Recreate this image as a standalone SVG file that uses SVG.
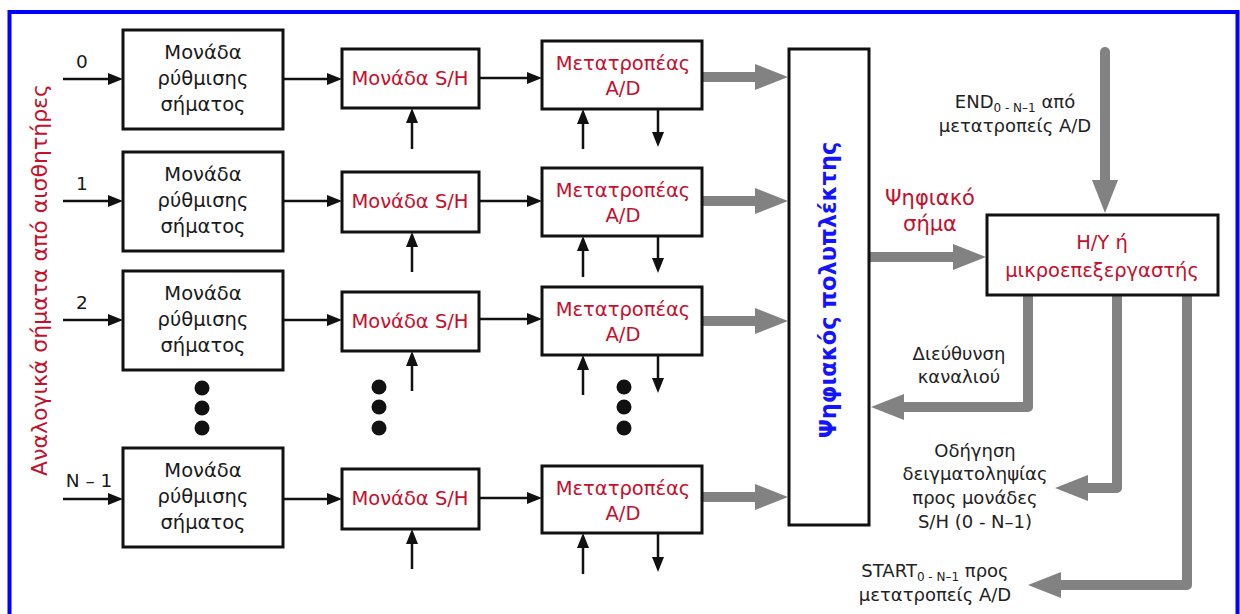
<svg xmlns="http://www.w3.org/2000/svg" width="1240" height="614" viewBox="0 0 1240 614">
<style>
.box{fill:#fff;stroke:#111;stroke-width:3}
.t{font-family:"DejaVu Sans","Liberation Sans",sans-serif;font-size:19.5px;text-anchor:middle;fill:#1a1a1a}
.r{fill:#c4102c}
.g{font-size:18px;fill:#222}
.thin{stroke:#111;stroke-width:2.5;fill:none}
.fat{stroke:#828282;stroke-width:10;fill:none;stroke-linejoin:round}
.dot{fill:#111}
</style>
<defs>
<marker id="ah" markerUnits="userSpaceOnUse" viewBox="0 0 15 12" markerWidth="15" markerHeight="12" refX="2" refY="6" orient="auto"><path d="M0,0 L15,6 L0,12 z" fill="#111"/></marker>
<marker id="gh" markerUnits="userSpaceOnUse" viewBox="0 0 33 26" markerWidth="33" markerHeight="26" refX="2" refY="13" orient="auto"><path d="M0,0 L33,13 L0,26 z" fill="#828282"/></marker>
</defs>
<rect x="0" y="0" width="1240" height="614" fill="#fff"/>
<rect x="9.5" y="12" width="1228" height="640" fill="none" stroke="#0000ff" stroke-width="4"/>

<g id="connectors">
  <line class="thin" x1="63" y1="79" x2="110" y2="79" marker-end="url(#ah)"/>
  <line class="thin" x1="63" y1="201" x2="110" y2="201" marker-end="url(#ah)"/>
  <line class="thin" x1="63" y1="320" x2="110" y2="320" marker-end="url(#ah)"/>
  <line class="thin" x1="63" y1="499" x2="110" y2="499" marker-end="url(#ah)"/>
  <line class="thin" x1="283" y1="79" x2="329" y2="79" marker-end="url(#ah)"/>
  <line class="thin" x1="283" y1="201" x2="329" y2="201" marker-end="url(#ah)"/>
  <line class="thin" x1="283" y1="320" x2="329" y2="320" marker-end="url(#ah)"/>
  <line class="thin" x1="283" y1="499" x2="329" y2="499" marker-end="url(#ah)"/>
  <line class="thin" x1="479" y1="78" x2="529" y2="78" marker-end="url(#ah)"/>
  <line class="thin" x1="479" y1="201" x2="529" y2="201" marker-end="url(#ah)"/>
  <line class="thin" x1="479" y1="319" x2="529" y2="319" marker-end="url(#ah)"/>
  <line class="thin" x1="479" y1="498" x2="529" y2="498" marker-end="url(#ah)"/>
  <line class="thin" x1="412" y1="149" x2="412" y2="121" marker-end="url(#ah)"/>
  <line class="thin" x1="412" y1="272" x2="412" y2="245" marker-end="url(#ah)"/>
  <line class="thin" x1="412" y1="391" x2="412" y2="364" marker-end="url(#ah)"/>
  <line class="thin" x1="412" y1="569" x2="412" y2="542" marker-end="url(#ah)"/>
  <line class="thin" x1="583" y1="149" x2="583" y2="122" marker-end="url(#ah)"/>
  <line class="thin" x1="583" y1="277" x2="583" y2="249" marker-end="url(#ah)"/>
  <line class="thin" x1="583" y1="395" x2="583" y2="368" marker-end="url(#ah)"/>
  <line class="thin" x1="583" y1="574" x2="583" y2="546" marker-end="url(#ah)"/>
  <line class="thin" x1="658" y1="109" x2="658" y2="134" marker-end="url(#ah)"/>
  <line class="thin" x1="658" y1="236" x2="658" y2="260" marker-end="url(#ah)"/>
  <line class="thin" x1="658" y1="355" x2="658" y2="380" marker-end="url(#ah)"/>
  <line class="thin" x1="658" y1="533" x2="658" y2="559" marker-end="url(#ah)"/>
  <line class="fat" x1="702" y1="77" x2="757" y2="77" marker-end="url(#gh)"/>
  <line class="fat" x1="702" y1="201" x2="757" y2="201" marker-end="url(#gh)"/>
  <line class="fat" x1="702" y1="321" x2="757" y2="321" marker-end="url(#gh)"/>
  <line class="fat" x1="702" y1="497" x2="757" y2="497" marker-end="url(#gh)"/>
  <line class="fat" x1="869" y1="257" x2="955" y2="257" marker-end="url(#gh)"/>
  <line class="fat" x1="1105" y1="52" x2="1105" y2="182" stroke-linecap="round" marker-end="url(#gh)"/>
  <path class="fat" d="M1028,295 V407 H902" marker-end="url(#gh)"/>
  <path class="fat" d="M1117,295 V488 H1086" marker-end="url(#gh)"/>
  <path class="fat" d="M1187,295 V585 H1059" marker-end="url(#gh)"/>
</g>

<g id="labels">
  <text class="t" x="82" y="68" style="font-size:18.5px">0</text>
  <text class="t" x="82" y="190" style="font-size:18.5px">1</text>
  <text class="t" x="82" y="309" style="font-size:18.5px">2</text>
  <text class="t" x="89" y="487" style="font-size:18.5px">N – 1</text>
  <text class="t r" transform="translate(47,280) rotate(-90)" style="font-size:22px">Αναλογικά σήματα από αισθητήρες</text>
  <text class="t r" x="930" y="205" style="font-size:21px">Ψηφιακό</text>
  <text class="t r" x="930" y="231" style="font-size:21px">σήμα</text>
  <text class="t g" x="1015" y="108">END<tspan font-size="12" dy="4">0 - N–1</tspan><tspan dy="-4"> από</tspan></text>
  <text class="t g" x="1015" y="132">μετατροπείς A/D</text>
  <text class="t g" x="959" y="360">Διεύθυνση</text>
  <text class="t g" x="959" y="383">καναλιού</text>
  <text class="t g" x="975" y="457">Οδήγηση</text>
  <text class="t g" x="975" y="480">δειγματοληψίας</text>
  <text class="t g" x="975" y="504">προς μονάδες</text>
  <text class="t g" x="975" y="528">S/H (0 - N–1)</text>
  <text class="t g" x="935" y="577">START<tspan font-size="12" dy="4">0 - N–1</tspan><tspan dy="-4"> προς</tspan></text>
  <text class="t g" x="935" y="601">μετατροπείς A/D</text>
</g>

<g id="dots">
  <circle class="dot" cx="202" cy="388" r="7.5"/><circle class="dot" cx="202" cy="408" r="7.5"/><circle class="dot" cx="202" cy="428" r="7.5"/>
  <circle class="dot" cx="379" cy="387" r="7.5"/><circle class="dot" cx="379" cy="407" r="7.5"/><circle class="dot" cx="379" cy="428" r="7.5"/>
  <circle class="dot" cx="624" cy="387" r="7.5"/><circle class="dot" cx="624" cy="407" r="7.5"/><circle class="dot" cx="624" cy="428" r="7.5"/>
</g>

<g id="cond0"><rect class="box" x="123" y="30" width="160" height="99"/><text class="t" x="203" y="59">Μονάδα</text><text class="t" x="203" y="85">ρύθμισης</text><text class="t" x="203" y="111">σήματος</text></g>
<g id="cond1"><rect class="box" x="123" y="152" width="160" height="99"/><text class="t" x="203" y="181">Μονάδα</text><text class="t" x="203" y="207">ρύθμισης</text><text class="t" x="203" y="233">σήματος</text></g>
<g id="cond2"><rect class="box" x="123" y="271" width="160" height="99"/><text class="t" x="203" y="300">Μονάδα</text><text class="t" x="203" y="326">ρύθμισης</text><text class="t" x="203" y="352">σήματος</text></g>
<g id="cond3"><rect class="box" x="123" y="448" width="160" height="99"/><text class="t" x="203" y="477">Μονάδα</text><text class="t" x="203" y="503">ρύθμισης</text><text class="t" x="203" y="529">σήματος</text></g>

<g id="sh0"><rect class="box" x="342" y="49" width="137" height="59"/><text class="t r" x="410" y="85">Μονάδα S/H</text></g>
<g id="sh1"><rect class="box" x="342" y="172" width="137" height="60"/><text class="t r" x="410" y="208">Μονάδα S/H</text></g>
<g id="sh2"><rect class="box" x="342" y="292" width="137" height="59"/><text class="t r" x="410" y="328">Μονάδα S/H</text></g>
<g id="sh3"><rect class="box" x="342" y="469" width="137" height="60"/><text class="t r" x="410" y="505">Μονάδα S/H</text></g>

<g id="adc0"><rect class="box" x="542" y="41" width="160" height="68"/><text class="t r" x="623" y="70">Μετατροπέας</text><text class="t r" x="623" y="95">A/D</text></g>
<g id="adc1"><rect class="box" x="542" y="168" width="160" height="68"/><text class="t r" x="623" y="197">Μετατροπέας</text><text class="t r" x="623" y="222">A/D</text></g>
<g id="adc2"><rect class="box" x="542" y="287" width="160" height="68"/><text class="t r" x="623" y="316">Μετατροπέας</text><text class="t r" x="623" y="341">A/D</text></g>
<g id="adc3"><rect class="box" x="542" y="466" width="160" height="67"/><text class="t r" x="623" y="495">Μετατροπέας</text><text class="t r" x="623" y="520">A/D</text></g>

<g id="mux"><rect class="box" x="789" y="49" width="80" height="476"/><text class="t" transform="translate(836,290) rotate(-90)" style="font-size:22.5px;font-weight:bold;fill:#1414ff">Ψηφιακός πολυπλέκτης</text></g>

<g id="computer"><rect class="box" x="987" y="215" width="231" height="80"/><text class="t r" x="1102" y="249">H/Y ή</text><text class="t r" x="1102" y="277">μικροεπεξεργαστής</text></g>
</svg>
